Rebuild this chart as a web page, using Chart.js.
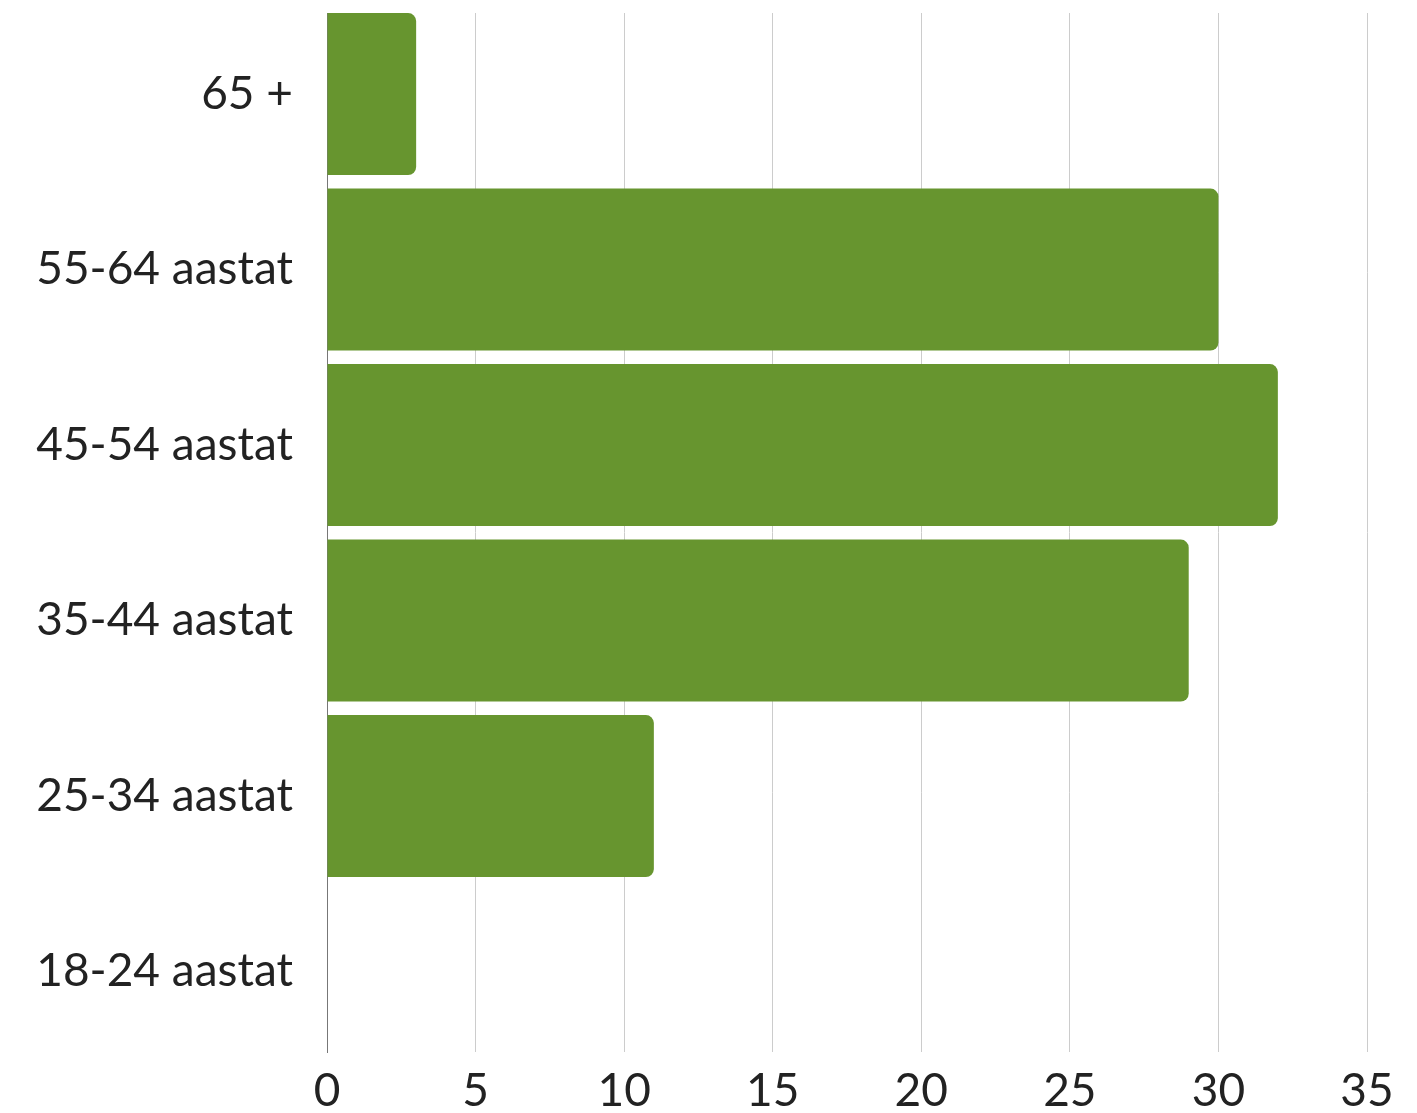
<!DOCTYPE html>
<html lang="et">
<head>
    <meta charset="UTF-8">
    <title>Vanuserühmad</title>
    <script src="https://cdn.jsdelivr.net/npm/chart.js"></script>
    <style>
        html, body { margin: 0; padding: 0; background: #fff; }
        #wrap { width: 1417px; height: 1113px; position: relative; }
    </style>
</head>
<body>
<div id="wrap"><canvas id="ageChart"></canvas></div>

<script>
    // vanuserühmad ülevalt alla
    const ageGroups = ['65 +', '55-64 aastat', '45-54 aastat', '35-44 aastat', '25-34 aastat', '18-24 aastat'];
    const ageValues = [3, 30, 32, 29, 11, 0];
    const xTicks = [0, 5, 10, 15, 20, 25, 30, 35];

    const textFont = { family: 'Lato', size: 46 };

    const ctx = document.getElementById('ageChart').getContext('2d');
    new Chart(ctx, {
        type: 'bar',
        data: {
            datasets: [{
                data: ageValues.map((v, i) => ({ x: v, y: i })),
                backgroundColor: '#67952f',
                borderRadius: 8,
                barPercentage: 0.923,
                categoryPercentage: 1
            }]
        },
        options: {
            indexAxis: 'y',
            animation: false,
            responsive: true,
            maintainAspectRatio: false,
            layout: { padding: { top: 13, right: 50, left: 0, bottom: 0 } },
            plugins: { legend: { display: false }, tooltip: { enabled: false } },
            scales: {
                x: {
                    min: xTicks[0],
                    max: xTicks[xTicks.length - 1],
                    afterBuildTicks: (scale) => { scale.ticks = xTicks.map(v => ({ value: v })); },
                    afterFit: (scale) => { scale.height = 61; },
                    grid: { color: '#cccccc', lineWidth: 1, drawTicks: false },
                    border: { display: false },
                    ticks: { color: '#222', font: textFont, padding: 12 }
                },
                y: {
                    type: 'linear',
                    reverse: true,
                    offset: false,
                    min: -0.462,
                    max: 5.458,
                    afterBuildTicks: (scale) => { scale.ticks = ageGroups.map((_, i) => ({ value: i })); },
                    afterFit: (scale) => {
                        scale.width = 327;
                        scale.paddingTop = 0;
                        scale.paddingBottom = 0;
                    },
                    grid: { display: false, drawTicks: false },
                    border: { color: '#777', width: 1 },
                    ticks: {
                        autoSkip: false,
                        color: '#222',
                        font: textFont,
                        padding: 34,
                        callback: (v) => ageGroups[v]
                    }
                }
            }
        }
    });
</script>
</body>
</html>
